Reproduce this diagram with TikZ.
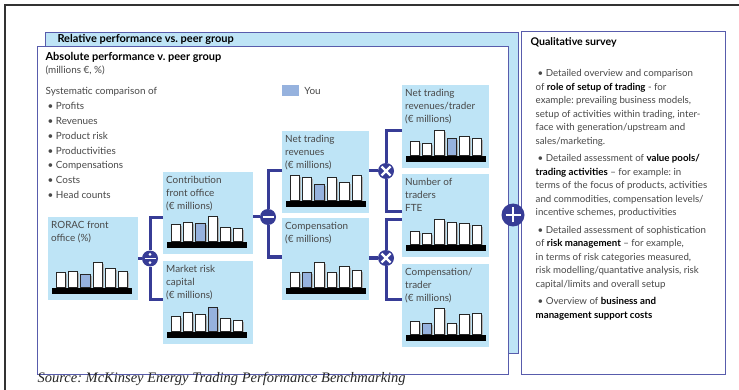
\documentclass[tikz,border=0pt]{standalone}
\usepackage{fontspec}
\setmainfont{Lato}
\newfontfamily\sourcefont{Liberation Serif}
\usetikzlibrary{calc}
\frenchspacing

\definecolor{boxblue}{RGB}{190,228,246}
\definecolor{linkblue}{RGB}{55,60,150}
\definecolor{frameblue}{RGB}{88,92,172}
\definecolor{youblue}{RGB}{150,178,222}
\definecolor{txtgray}{RGB}{72,72,72}

\newcommand\keyterm[1]{\textbf{\color{black}#1}}

% small bar chart sitting at the bottom of a chart box
\newcommand\minichart[3]{%
  \foreach \h [count=\i] in {#2}{%
    \pgfmathsetmacro\bx{8+(\i-1)*12.4}%
    \ifnum\i=#3 \def\barfill{youblue}\else\def\barfill{white}\fi
    \fill[gray!60] ($(#1.south west)+(\bx+1.4,-12.5)$) rectangle ++(9.5,-\h+1.4);
    \filldraw[fill=\barfill, draw=black!85, line width=0.9pt] ($(#1.south west)+(\bx,-12.5)$) rectangle ++(9.5,-\h);
  }%
  \fill[black] ($(#1.south west)+(4,-6)$) rectangle ++(80,-6.5);
}

\tikzset{
  panel/.style={draw=frameblue, line width=1.3pt, anchor=north west, inner sep=0pt},
  chartbox/.style={fill=boxblue, anchor=north west, inner sep=0pt, minimum width=88, minimum height=83},
  boxlabel/.style={anchor=north west, inner xsep=3pt, inner ysep=4.5pt, align=left, text=txtgray, font=\fontsize{9.9}{12.8}\selectfont},
  title/.style={anchor=west, font=\fontsize{11}{13}\bfseries\selectfont},
  link/.style={draw=linkblue, line width=3pt},
  opcirc/.style={circle, fill=linkblue, minimum size=16, inner sep=0pt},
  opdiv/.style={opcirc, path picture={
    \draw[white, line width=1.6pt] (path picture bounding box.center) ++(-5.5,0) -- ++(11,0);
    \fill[white] (path picture bounding box.center) ++(0,-4.2) circle (1.5) ++(0,8.4) circle (1.5);}},
  opminus/.style={opcirc, path picture={
    \draw[white, line width=2.6pt] (path picture bounding box.center) ++(-5.5,0) -- ++(11,0);}},
  optimes/.style={opcirc, path picture={
    \draw[white, line width=2.3pt] (path picture bounding box.center) ++(-4.5,-4.5) -- ++(9,9)
      (path picture bounding box.center) ++(-4.5,4.5) -- ++(9,-9);}},
  opplus/.style={opcirc, minimum size=23, path picture={
    \draw[white, line width=2.6pt] (path picture bounding box.center) ++(-7.5,0) -- ++(15,0)
      (path picture bounding box.center) ++(0,-7.5) -- ++(0,15);}}
}

\begin{document}
\begin{tikzpicture}[x=1pt,y=1pt,yscale=-1,xscale=1]
\useasboundingbox (0,0) rectangle (739,390);

% page frame
\draw[line width=1.6pt, black!80] (5,390) -- (5,5) -- (739,5);

%Shape: panels
\node[panel, fill=boxblue, minimum width=473, minimum height=321] (rel) at (45,32) {};
\node[panel, fill=white, minimum width=471, minimum height=328] (abs) at (37,46) {};
\node[panel, fill=white, minimum width=204, minimum height=343] (qual) at (521,31) {};

% Text Node
\node[title] (reltitle) at (54,39) {Relative performance vs. peer group};
\node[title] (abstitle) at (42,57.5) {Absolute performance v. peer group};
\node[anchor=west, text=txtgray, font=\fontsize{9.9}{12}\selectfont] (absunit) at (42,70.5) {(millions €, \%)};
\node[anchor=north west, inner sep=1.5pt, align=left, text=txtgray, font=\fontsize{9.9}{14.9}\selectfont] (compare) at (44,85.5) {%
Systematic comparison of\\
\hspace*{2pt}\textbullet\hspace{2.5pt}Profits\\
\hspace*{2pt}\textbullet\hspace{2.5pt}Revenues\\
\hspace*{2pt}\textbullet\hspace{2.5pt}Product risk\\
\hspace*{2pt}\textbullet\hspace{2.5pt}Productivities\\
\hspace*{2pt}\textbullet\hspace{2.5pt}Compensations\\
\hspace*{2pt}\textbullet\hspace{2.5pt}Costs\\
\hspace*{2pt}\textbullet\hspace{2.5pt}Head counts};

% legend
\node[fill=youblue, anchor=north west, inner sep=0pt, minimum width=17, minimum height=11] (youkey) at (282,85) {};
\node[anchor=west, text=txtgray, font=\fontsize{9.9}{12}\selectfont] (youtext) at ($(youkey.east)+(1.5,0)$) {You};

%Shape: chart boxes
\node[chartbox, minimum width=90] (ror) at (48,217) {};
\node[chartbox, minimum width=90, minimum height=82] (contrib) at (163,172) {};
\node[chartbox, minimum width=90] (mrisk) at (163,261) {};
\node[chartbox, minimum width=87, minimum height=82] (ntr) at (282,131) {};
\node[chartbox, minimum width=87, minimum height=82] (comp) at (282,218) {};
\node[chartbox, minimum width=87] (ntrpt) at (402,85) {};
\node[chartbox, minimum width=87] (ntraders) at (402,174) {};
\node[chartbox, minimum width=87] (comppt) at (402,264) {};

% Text Node
\node[boxlabel] (rorlab) at (ror.north west) {RORAC front\\office (\%)};
\node[boxlabel] (contriblab) at (contrib.north west) {Contribution\\front office\\(€ millions)};
\node[boxlabel] (mrisklab) at (mrisk.north west) {Market risk\\capital\\(€ millions)};
\node[boxlabel] (ntrlab) at (ntr.north west) {Net trading\\revenues\\(€ millions)};
\node[boxlabel] (complab) at (comp.north west) {Compensation\\(€ millions)};
\node[boxlabel] (ntrptlab) at (ntrpt.north west) {Net trading\\revenues/trader\\(€ millions)};
\node[boxlabel] (ntraderslab) at (ntraders.north west) {Number of\\traders\\FTE};
\node[boxlabel] (comppptlab) at (comppt.north west) {Compensation/\\trader\\(€ millions)};

% bar charts
\minichart{ror}{15,16,13,25,19,16}{3}
\minichart{contrib}{17,19.7,18.3,25.7,14.3,13}{3}
\minichart{mrisk}{15.7,19,17.3,24,13,11.7}{4}
\minichart{ntr}{25,23,16.7,23,18.4,25}{3}
\minichart{comp}{15,15,25,15,21.6,17.6}{2}
\minichart{ntrpt}{14.7,12.4,25.7,17.4,19.7,17.7}{4}
\minichart{ntraders}{13.6,11.6,25,22.6,21,19.3}{0}
\minichart{comppt}{13.4,11.7,26,11.7,20,21}{2}

% operators
\node[opdiv] (div) at (150,258.5) {};
\node[opminus] (minus) at (268,217) {};
\node[optimes] (tim1) at (386,171) {};
\node[optimes] (tim2) at (386,258) {};
\node[opplus] (plus) at (513,215) {};

% connectors
\draw[link] (div -| ror.east) -- (div);
\draw[link] (contrib.west |- 0,218) -| (div);
\draw[link] (mrisk.west |- 0,299) -| (div);
\draw[link] (minus -| contrib.east) -- (minus);
\draw[link] (ntr.west |- 0,171) -| (minus);
\draw[link] (comp.west |- 0,257) -| (minus);
\draw[link] (tim1 -| ntr.east) -- (tim1);
\draw[link] (ntrpt.west |- 0,131) -| (tim1);
\draw[link] (ntraders.west |- 0,212) -| (tim1);
\draw[link] (tim2 -| comp.east) -- (tim2);
\draw[link] (ntraders.west |- 0,220) -| (tim2);
\draw[link] (comppt.west |- 0,299) -| (tim2);

% Text Node
\node[title, font=\fontsize{10.6}{13}\bfseries\selectfont] (qualtitle) at (527,42) {Qualitative survey};
\node[anchor=north west, inner sep=1.5pt, align=left, text=txtgray, font=\fontsize{9.7}{13.5}\selectfont] (survey) at (534,68) {%
\hspace*{2pt}\textbullet\ Detailed overview and comparison\\
of \keyterm{role of setup of trading} - for\\
example: prevailing business models,\\
setup of activities within trading, inter-\\
face with generation/upstream and\\
sales/marketing.\\[4pt]
\hspace*{2pt}\textbullet\ Detailed assessment of \keyterm{value pools/}\\
\keyterm{trading activities} – for example: in\\
terms of the focus of products, activities\\
and commodities, compensation levels/\\
incentive schemes, productivities\\[4pt]
\hspace*{2pt}\textbullet\ Detailed assessment of sophistication\\
of \keyterm{risk management} – for example,\\
in terms of risk categories measured,\\
risk modelling/quantative analysis, risk\\
capital/limits and overall setup\\[4pt]
\hspace*{2pt}\textbullet\ Overview of \keyterm{business and}\\
\keyterm{management support costs}};

% Text Node
\node[anchor=west, text=black!85, font=\sourcefont\itshape\fontsize{14.5}{16}\selectfont] (source) at (34,379) {Source: McKinsey Energy Trading Performance Benchmarking};
\end{tikzpicture}
\end{document}
